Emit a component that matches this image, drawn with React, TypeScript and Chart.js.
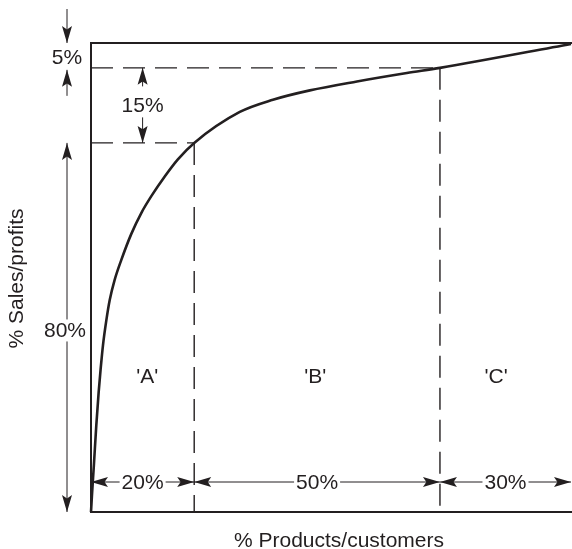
import React, { useEffect, useRef } from "react";
import { Chart, registerables } from "chart.js";

Chart.register(...registerables);

// Curve: cumulative % of sales/profits vs cumulative % of products/customers
const xPct = [0, 0.2, 0.6, 1.1, 1.6, 2.0, 2.5, 3.2, 3.9, 4.9, 6.3, 8.4, 10.5, 12.6, 15.4, 18.1, 21.5, 31.0, 37.9, 45.6, 55.4, 65.8, 72.7, 100];
const yPct = [0, 3.6, 10.0, 18.4, 25.6, 30.4, 35.6, 40.9, 45.2, 49.4, 53.7, 59.3, 63.8, 67.4, 71.6, 75.2, 78.7, 85.3, 87.9, 89.9, 91.8, 93.6, 94.7, 99.8];

// Class boundaries (x: products, y: sales)
const xBreaks = [0, 21.5, 72.7, 100];
const yBreaks = [0, 78.7, 94.7, 100];
const xBandLabels = ["20%", "50%", "30%"];
const yBandLabels = ["80%", "15%", "5%"];
const classLabels = ["'A'", "'B'", "'C'"];
const classLabelX = [11.7, 46.7, 84.4];
const classLabelY = 29;

const xTitle = "% Products/customers";
const yTitle = "% Sales/profits";

const INK = "#231f20";
const FONT = "21px 'Liberation Sans', Arial, Helvetica, sans-serif";

function arrowHead(ctx: CanvasRenderingContext2D, tx: number, ty: number, dx: number, dy: number) {
  const L = 17;
  const W = 5;
  const px = -dy;
  const py = dx;
  ctx.beginPath();
  ctx.moveTo(tx, ty);
  ctx.lineTo(tx - dx * L + px * W, ty - dy * L + py * W);
  ctx.lineTo(tx - dx * L * 0.8, ty - dy * L * 0.8);
  ctx.lineTo(tx - dx * L - px * W, ty - dy * L - py * W);
  ctx.closePath();
  ctx.fill();
}

function line(ctx: CanvasRenderingContext2D, x1: number, y1: number, x2: number, y2: number) {
  ctx.beginPath();
  ctx.moveTo(x1, y1);
  ctx.lineTo(x2, y2);
  ctx.stroke();
}

function label(ctx: CanvasRenderingContext2D, text: string, x: number, y: number, bg = true) {
  ctx.font = FONT;
  ctx.textAlign = "center";
  ctx.textBaseline = "middle";
  if (bg) {
    const w = ctx.measureText(text).width;
    ctx.fillStyle = "#ffffff";
    ctx.fillRect(x - w / 2 - 2, y - 11, w + 4, 22);
  }
  ctx.fillStyle = INK;
  ctx.fillText(text, x, y + 1);
}

const framePlugin = {
  id: "abcFrame",
  beforeDatasetsDraw(chart: any) {
    const { ctx, chartArea: a, scales } = chart;
    const xs = scales.x;
    const ys = scales.y;
    ctx.save();
    ctx.strokeStyle = INK;
    ctx.lineWidth = 2;
    ctx.beginPath();
    ctx.moveTo(a.right + 1, a.top);
    ctx.lineTo(a.left, a.top);
    ctx.lineTo(a.left, a.bottom);
    ctx.lineTo(a.right + 1, a.bottom);
    ctx.stroke();
    ctx.lineWidth = 1.4;
    ctx.setLineDash([22, 10]);
    for (let i = 1; i <= 2; i++) {
      const gx = xs.getPixelForValue(xBreaks[i]);
      const gy = ys.getPixelForValue(yBreaks[i]);
      line(ctx, a.left, gy, gx, gy);
      line(ctx, gx, gy, gx, a.bottom);
    }
    ctx.restore();
  },
  afterDatasetsDraw(chart: any) {
    const { ctx, chartArea: a, scales } = chart;
    const xs = scales.x;
    const ys = scales.y;
    ctx.save();
    ctx.strokeStyle = INK;
    ctx.fillStyle = INK;
    ctx.lineWidth = 1;

    const hy = a.bottom - 30;
    for (let i = 0; i < 3; i++) {
      const x1 = xs.getPixelForValue(xBreaks[i]);
      const x2 = i === 2 ? a.right : xs.getPixelForValue(xBreaks[i + 1]);
      ctx.fillStyle = INK;
      line(ctx, x1, hy, x2, hy);
      arrowHead(ctx, x1, hy, -1, 0);
      arrowHead(ctx, x2, hy, 1, 0);
      label(ctx, xBandLabels[i], (x1 + x2) / 2, hy);
    }

    const vx = a.left - 24;
    const y0 = ys.getPixelForValue(yBreaks[0]);
    const y1 = ys.getPixelForValue(yBreaks[1]);
    const y2 = ys.getPixelForValue(yBreaks[2]);
    const y3 = ys.getPixelForValue(yBreaks[3]);
    ctx.fillStyle = INK;
    line(ctx, vx, y0, vx, y1);
    arrowHead(ctx, vx, y0, 0, 1);
    arrowHead(ctx, vx, y1, 0, -1);
    label(ctx, yBandLabels[0], vx - 2, (y0 + y1) / 2 + 3);

    const ix = xs.getPixelForValue(xBreaks[1] / 2);
    const mid15 = (y1 + y2) / 2;
    ctx.fillStyle = INK;
    line(ctx, ix, y2, ix, mid15 - 19);
    arrowHead(ctx, ix, y2, 0, -1);
    line(ctx, ix, mid15 + 12, ix, y1);
    arrowHead(ctx, ix, y1, 0, 1);
    label(ctx, yBandLabels[1], ix, mid15, false);

    ctx.fillStyle = INK;
    line(ctx, vx, y3 - 34, vx, y3);
    arrowHead(ctx, vx, y3, 0, 1);
    line(ctx, vx, y2 + 28, vx, y2 + 2);
    arrowHead(ctx, vx, y2 + 2, 0, -1);
    label(ctx, yBandLabels[2], vx, (y2 + y3) / 2 + 2, false);

    for (let i = 0; i < 3; i++) {
      label(ctx, classLabels[i], xs.getPixelForValue(classLabelX[i]), ys.getPixelForValue(classLabelY), false);
    }

    ctx.font = FONT;
    ctx.fillStyle = INK;
    ctx.textAlign = "center";
    ctx.textBaseline = "alphabetic";
    ctx.fillText(xTitle, (a.left + a.right) / 2 + 8, a.bottom + 35);
    ctx.translate(23, (a.top + a.bottom) / 2 + 1);
    ctx.rotate(-Math.PI / 2);
    ctx.fillText(yTitle, 0, 0);
    ctx.restore();
  },
};

export default function App() {
  const canvasRef = useRef<HTMLCanvasElement | null>(null);

  useEffect(() => {
    if (!canvasRef.current) return;
    const chart = new Chart(canvasRef.current, {
      type: "line",
      data: {
        datasets: [
          {
            data: xPct.map((x, i) => ({ x, y: yPct[i] })),
            borderColor: INK,
            borderWidth: 2.6,
            pointRadius: 0,
            cubicInterpolationMode: "monotone",
            fill: false,
            clip: false as any,
          },
        ],
      },
      options: {
        animation: false,
        responsive: true,
        maintainAspectRatio: false,
        layout: { padding: { left: 91, top: 43, right: 1, bottom: 37 } },
        plugins: { legend: { display: false }, tooltip: { enabled: false } },
        scales: {
          x: { type: "linear", min: 0, max: 100, display: false },
          y: { type: "linear", min: 0, max: 100, display: false },
        },
      },
      plugins: [framePlugin],
    });
    return () => chart.destroy();
  }, []);

  return (
    <div style={{ position: "absolute", left: 0, top: 0, width: 572, height: 549, background: "#fff" }}>
      <canvas ref={canvasRef} />
    </div>
  );
}
